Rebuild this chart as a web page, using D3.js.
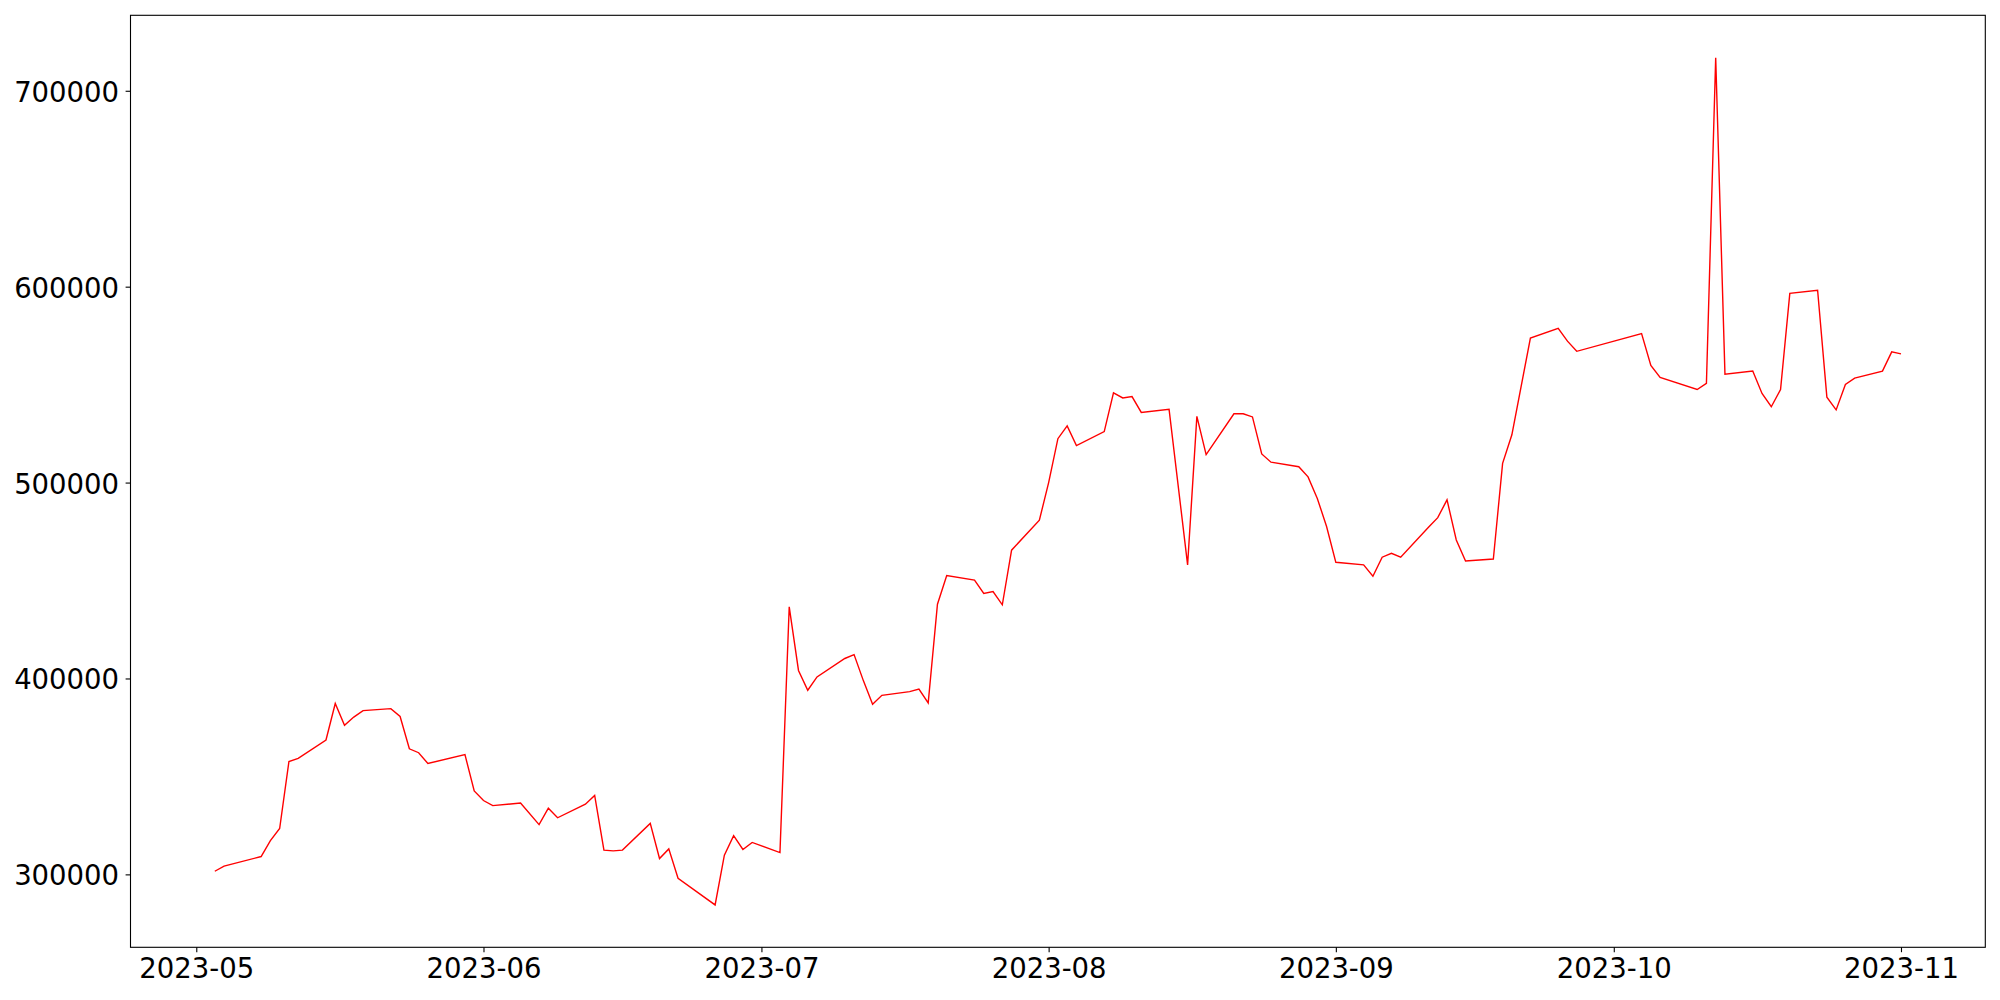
<!DOCTYPE html>
<html>
<head>
<meta charset="utf-8">
<script src="https://cdn.jsdelivr.net/npm/d3@7"></script>
<style>
  body { margin: 0; background: #fff; }
  svg { display: block; }
</style>
</head>
<body>
<div id="chart-container"></div>
<script>
// Dates and values (weekday series, May -> Nov 2023)
const dates = [
  "2023-05-03", "2023-05-04", "2023-05-08", "2023-05-09", "2023-05-10", "2023-05-11", "2023-05-12",
  "2023-05-15", "2023-05-16", "2023-05-17", "2023-05-18", "2023-05-19", "2023-05-22", "2023-05-23",
  "2023-05-24", "2023-05-25", "2023-05-26", "2023-05-30", "2023-05-31", "2023-06-01", "2023-06-02",
  "2023-06-05", "2023-06-07", "2023-06-08", "2023-06-09", "2023-06-12", "2023-06-13", "2023-06-14",
  "2023-06-15", "2023-06-16", "2023-06-19", "2023-06-20", "2023-06-21", "2023-06-22", "2023-06-26",
  "2023-06-27", "2023-06-28", "2023-06-29", "2023-06-30", "2023-07-03", "2023-07-04", "2023-07-05",
  "2023-07-06", "2023-07-07", "2023-07-10", "2023-07-11", "2023-07-12", "2023-07-13", "2023-07-14",
  "2023-07-17", "2023-07-18", "2023-07-19", "2023-07-20", "2023-07-21", "2023-07-24", "2023-07-25",
  "2023-07-26", "2023-07-27", "2023-07-28", "2023-07-31", "2023-08-01", "2023-08-02", "2023-08-03",
  "2023-08-04", "2023-08-07", "2023-08-08", "2023-08-09", "2023-08-10", "2023-08-11", "2023-08-14",
  "2023-08-16", "2023-08-17", "2023-08-18", "2023-08-21", "2023-08-22", "2023-08-23", "2023-08-24",
  "2023-08-25", "2023-08-28", "2023-08-29", "2023-08-30", "2023-08-31", "2023-09-01", "2023-09-04",
  "2023-09-05", "2023-09-06", "2023-09-07", "2023-09-08", "2023-09-11", "2023-09-12", "2023-09-13",
  "2023-09-14", "2023-09-15", "2023-09-18", "2023-09-19", "2023-09-20", "2023-09-22", "2023-09-25",
  "2023-09-26", "2023-09-27", "2023-10-04", "2023-10-05", "2023-10-06", "2023-10-10", "2023-10-11",
  "2023-10-12", "2023-10-13", "2023-10-16", "2023-10-17", "2023-10-18", "2023-10-19", "2023-10-20",
  "2023-10-23", "2023-10-24", "2023-10-25", "2023-10-26", "2023-10-27", "2023-10-30", "2023-10-31",
  "2023-11-01"
];

const values = [
  301600, 304200, 309100, 317200, 323400, 357600, 359200,
  368600, 387200, 376100, 380300, 383600, 384600, 380600,
  364100, 362100, 356600, 361100, 342600, 337700, 335100,
  336400, 325400, 333800, 328900, 335800, 340300, 312400,
  312000, 312400, 326000, 308100, 313000, 298000, 284400,
  309800, 319800, 312700, 316300, 311100, 436600, 404100,
  394000, 400800, 410200, 412200, 398900, 386800, 391400,
  393300, 394600, 387500, 437900, 452500, 450200, 443400,
  444400, 437600, 465500, 480800, 500000, 522400, 528900,
  518900, 526000, 545800, 543200, 543900, 535800, 537400,
  458000, 533800, 514300, 535100, 535100, 533500, 514600,
  510400, 508100, 502900, 491900, 477600, 459300, 458000,
  452200, 461900, 463900, 461900, 477200, 482100, 491200,
  470700, 460000, 461000, 509800, 524400, 573800, 578700,
  572200, 567000, 576100, 559800, 553700, 547500, 550700,
  716900, 555300, 556900, 545500, 538700, 547500, 596600,
  598200, 543600, 537100, 550100, 553300, 556900, 566700,
  565700
];

const yTicks = [300000, 400000, 500000, 600000, 700000];
const xTicks = ["2023-05-01", "2023-06-01", "2023-07-01", "2023-08-01", "2023-09-01", "2023-10-01", "2023-11-01"];

const width = 2000;
const height = 1000;
const margin = { top: 15.3, right: 14.7, bottom: 52.7, left: 130.5 };

const parseDate = d3.utcParse("%Y-%m-%d");
const data = dates.map((d, i) => ({ date: parseDate(d), value: values[i] }));

// matplotlib style 5% padding on both axes
function padded(extent, frac) {
    const span = extent[1] - extent[0];
    return [extent[0] - span * frac, extent[1] + span * frac];
}

function createLineChart(data) {
    const svg = d3.select("#chart-container")
        .append("svg")
        .attr("width", width)
        .attr("height", height);

    const xExt = d3.extent(data, d => +d.date);
    const xDom = padded(xExt, 0.05);
    const x = d3.scaleUtc()
        .domain([new Date(xDom[0]), new Date(xDom[1])])
        .range([margin.left, width - margin.right]);

    const y = d3.scaleLinear()
        .domain(padded(d3.extent(data, d => d.value), 0.05))
        .range([height - margin.bottom, margin.top]);

    const line = d3.line()
        .x(d => x(d.date))
        .y(d => y(d.value));

    svg.append("path")
        .datum(data)
        .attr("fill", "none")
        .attr("stroke", "red")
        .attr("stroke-width", 1.4)
        .attr("stroke-linejoin", "miter")
        .attr("d", line);

    // x axis
    const xAxis = svg.append("g")
        .attr("transform", `translate(0,${height - margin.bottom})`)
        .call(d3.axisBottom(x)
            .tickValues(xTicks.map(parseDate))
            .tickFormat(d3.utcFormat("%Y-%m"))
            .tickSize(4.9)
            .tickPadding(5.8)
            .tickSizeOuter(0));

    // y axis
    const yAxis = svg.append("g")
        .attr("transform", `translate(${margin.left},0)`)
        .call(d3.axisLeft(y)
            .tickValues(yTicks)
            .tickFormat(d3.format("d"))
            .tickSize(4.9)
            .tickPadding(6.5)
            .tickSizeOuter(0));

    yAxis.selectAll("text").attr("dy", "0.38em");

    [xAxis, yAxis].forEach(g => {
        g.select(".domain").remove();
        g.selectAll("line").attr("stroke", "#000").attr("stroke-width", 1.1);
        g.selectAll("text")
            .attr("fill", "#000")
            .style("font-family", "'DejaVu Sans', sans-serif")
            .style("font-size", "27.5px");
    });

    // frame around the plot area
    svg.append("rect")
        .attr("x", margin.left)
        .attr("y", margin.top)
        .attr("width", width - margin.left - margin.right)
        .attr("height", height - margin.top - margin.bottom)
        .attr("fill", "none")
        .attr("stroke", "#000")
        .attr("stroke-width", 1.1);
}

createLineChart(data);
</script>
</body>
</html>
